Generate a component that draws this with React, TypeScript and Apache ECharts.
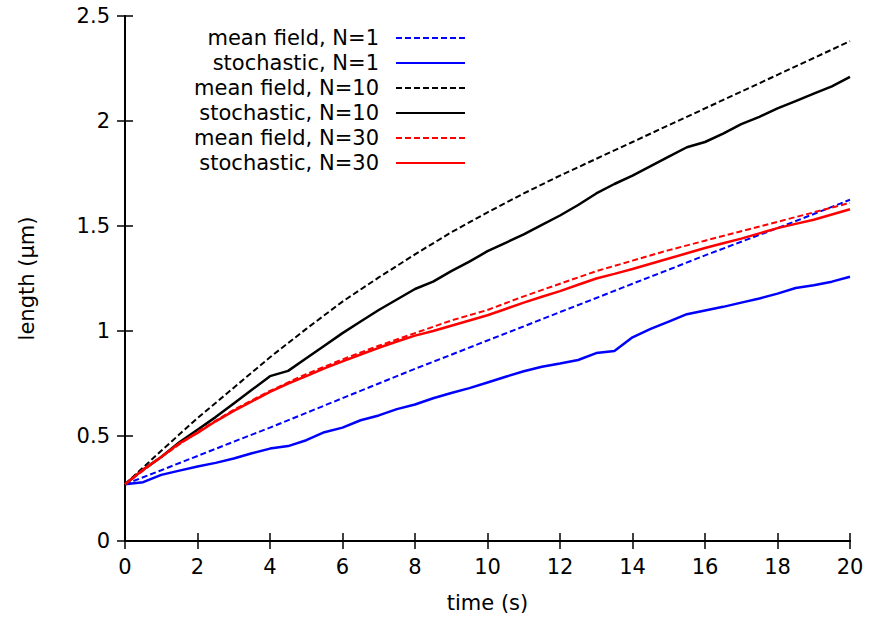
import React, { useEffect, useRef } from "react";
import * as echarts from "echarts";

// time grids
const tMeanField = [0, 1, 2, 3, 4, 5, 6, 7, 8, 9, 10, 11, 12, 13, 14, 15, 16, 17, 18, 19, 20];
const tStochastic = [
  0, 0.5, 1, 1.5, 2, 2.5, 3, 3.5, 4, 4.5, 5, 5.5, 6, 6.5, 7, 7.5, 8, 8.5, 9, 9.5, 10,
  10.5, 11, 11.5, 12, 12.5, 13, 13.5, 14, 14.5, 15, 15.5, 16, 16.5, 17, 17.5, 18, 18.5, 19, 19.5, 20,
];

// mean field (dashed)
const meanFieldN1 = [0.27, 0.337, 0.405, 0.473, 0.54, 0.61, 0.68, 0.75, 0.82, 0.887, 0.955, 1.022, 1.09, 1.157, 1.225, 1.292, 1.36, 1.425, 1.49, 1.557, 1.625];
const meanFieldN10 = [0.27, 0.43, 0.585, 0.73, 0.875, 1.01, 1.14, 1.255, 1.365, 1.47, 1.565, 1.655, 1.74, 1.82, 1.9, 1.98, 2.06, 2.14, 2.22, 2.3, 2.38];
const meanFieldN30 = [0.27, 0.4, 0.52, 0.625, 0.715, 0.795, 0.865, 0.93, 0.99, 1.05, 1.1, 1.165, 1.225, 1.285, 1.335, 1.385, 1.43, 1.475, 1.52, 1.565, 1.61];

// stochastic (solid)
const stochasticN1 = [
  0.27, 0.28, 0.315, 0.335, 0.355, 0.372, 0.393, 0.418, 0.44, 0.452, 0.48, 0.518, 0.54, 0.575, 0.598, 0.628, 0.65, 0.68, 0.705, 0.728, 0.755,
  0.782, 0.808, 0.83, 0.845, 0.862, 0.895, 0.905, 0.97, 1.01, 1.045, 1.08, 1.098, 1.115, 1.135, 1.155, 1.178, 1.205, 1.218, 1.235, 1.258,
];
const stochasticN10 = [
  0.27, 0.34, 0.4, 0.47, 0.53, 0.59, 0.655, 0.72, 0.785, 0.81, 0.87, 0.93, 0.99, 1.045, 1.1, 1.15, 1.2, 1.235, 1.285, 1.33, 1.38,
  1.42, 1.46, 1.505, 1.55, 1.6, 1.655, 1.7, 1.74, 1.785, 1.83, 1.875, 1.9, 1.94, 1.985, 2.02, 2.06, 2.095, 2.13, 2.165, 2.21,
];
const stochasticN30 = [
  0.27, 0.34, 0.4, 0.465, 0.515, 0.57, 0.62, 0.665, 0.71, 0.75, 0.785, 0.822, 0.855, 0.888, 0.92, 0.95, 0.978, 1.0, 1.025, 1.05, 1.075,
  1.105, 1.135, 1.163, 1.19, 1.22, 1.25, 1.272, 1.295, 1.32, 1.345, 1.37, 1.395, 1.418, 1.44, 1.465, 1.49, 1.51, 1.53, 1.555, 1.58,
];

const xTicks = { min: 0, max: 20, interval: 2 };
const yTicks = { min: 0, max: 2.5, interval: 0.5 };

const FONT = "DejaVu Sans";
const BLUE = "#0000ff";
const RED = "#ff0000";
const BLACK = "#000000";

const pairs = (xs: number[], ys: number[]) => xs.map((x, i) => [x, ys[i]]);

export default function App() {
  const ref = useRef<HTMLDivElement>(null);
  useEffect(() => {
    if (!ref.current) return;
    const chart = echarts.init(ref.current, undefined, { renderer: "svg" });
    const mk = (name: string, xs: number[], ys: number[], color: string, dashed: boolean) => ({
      name,
      type: "line",
      data: pairs(xs, ys),
      symbol: "none",
      showSymbol: false,
      xAxisIndex: 0,
      yAxisIndex: 0,
      lineStyle: { color, width: dashed ? 2 : 2.5, type: dashed ? [6, 3] : "solid" },
      itemStyle: { color },
      emphasis: { disabled: true },
    });
    const axisCommon = {
      axisLine: { show: true, lineStyle: { color: BLACK, width: 2 } },
      axisTick: { show: true, inside: true, length: 8, lineStyle: { color: BLACK, width: 1.5 } },
      splitLine: { show: false },
    };
    chart.setOption({
      animation: false,
      grid: { left: 125, right: 19, top: 16, bottom: 77, containLabel: false },
      legend: {
        orient: "vertical",
        right: 403,
        top: 27.5,
        padding: 0,
        align: "right",
        itemWidth: 69,
        itemHeight: 20,
        itemGap: 4,
        selectedMode: false,
        itemStyle: { opacity: 0 },
        formatter: (name: string) => `{a|${name}}`,
        textStyle: {
          fontFamily: FONT,
          fontSize: 21,
          color: BLACK,
          rich: {
            a: { fontFamily: FONT, fontSize: 21, color: BLACK, width: 185, align: "right", lineHeight: 20, padding: [0, 12, 0, 0] },
          },
        },
        data: [
          "mean field, N=1",
          "stochastic, N=1",
          "mean field, N=10",
          "stochastic, N=10",
          "mean field, N=30",
          "stochastic, N=30",
        ],
      },
      xAxis: [
        {
          type: "value",
          ...xTicks,
          position: "bottom",
          name: "time (s)",
          nameLocation: "middle",
          nameGap: 51,
          nameTextStyle: { fontFamily: FONT, fontSize: 21, color: BLACK },
          axisLabel: { fontFamily: FONT, fontSize: 21, color: BLACK, margin: 15 },
          ...axisCommon,
        },
        {
          type: "value",
          ...xTicks,
          position: "top",
          axisLabel: { show: false },
          ...axisCommon,
        },
      ],
      yAxis: [
        {
          type: "value",
          ...yTicks,
          position: "left",
          name: "length (\u03bcm)",
          nameLocation: "middle",
          nameGap: 88,
          nameTextStyle: { fontFamily: FONT, fontSize: 21, color: BLACK },
          axisLabel: { fontFamily: FONT, fontSize: 21, color: BLACK, margin: 15 },
          ...axisCommon,
        },
        {
          type: "value",
          ...yTicks,
          position: "right",
          axisLabel: { show: false },
          ...axisCommon,
        },
      ],
      series: [
        mk("mean field, N=1", tMeanField, meanFieldN1, BLUE, true),
        mk("stochastic, N=1", tStochastic, stochasticN1, BLUE, false),
        mk("mean field, N=10", tMeanField, meanFieldN10, BLACK, true),
        mk("stochastic, N=10", tStochastic, stochasticN10, BLACK, false),
        mk("mean field, N=30", tMeanField, meanFieldN30, RED, true),
        mk("stochastic, N=30", tStochastic, stochasticN30, RED, false),
      ],
    });
    return () => chart.dispose();
  }, []);
  return (
    <div
      ref={ref}
      style={{ position: "fixed", left: 0, top: 0, width: 869, height: 618, background: "#ffffff" }}
    />
  );
}
